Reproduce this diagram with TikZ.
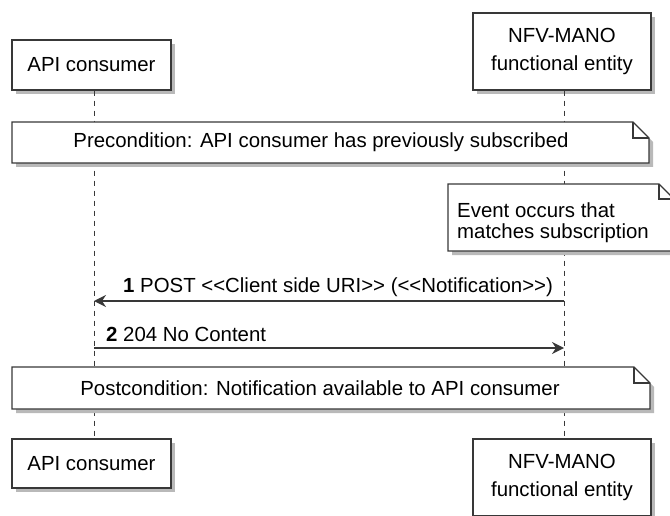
\documentclass[tikz,border=0pt]{standalone}
\usepackage{fontspec}
\setmainfont{Liberation Sans}
\usetikzlibrary{arrows.meta,shadows}
\definecolor{umlline}{HTML}{383838}
\definecolor{umlshadow}{HTML}{B9B9B9}
\tikzset{
  actorbox/.style={rectangle,draw=umlline,line width=1.4pt,fill=white,align=center,inner sep=0pt,
    font=\fontsize{20.4}{28}\selectfont,
    drop shadow={shadow xshift=4pt,shadow yshift=-4pt,fill=umlshadow,opacity=1}},
  lifeline/.style={draw=umlline,line width=1pt,dash pattern=on 5pt off 5pt},
  msg/.style={draw=umlline,line width=1.4pt,-{Stealth[length=12pt,width=12pt,inset=4pt]}},
  notebox/.style={draw=umlline,line width=1.4pt,fill=white,line join=miter},
  noteshadow/.style={fill=umlshadow},
  txt/.style={inner sep=0pt,font=\fontsize{20.4}{21}\selectfont}
}
\begin{document}
\begin{tikzpicture}[x=1pt,y=-1pt]
\useasboundingbox (0,0) rectangle (670,516);
% participants
\node[actorbox,minimum width=159pt,minimum height=50pt] (apitop) at (91.5,65) {API consumer};
\node[actorbox,minimum width=178pt,minimum height=77pt] (nfvtop) at (562,51.5) {NFV-MANO\\functional entity};
\node[actorbox,minimum width=159pt,minimum height=49pt] (apibot) at (91.5,463.5) {API consumer};
\node[actorbox,minimum width=178pt,minimum height=77pt] (nfvbot) at (562,477.5) {NFV-MANO\\functional entity};
% lifelines
\path[lifeline] ([xshift=2.5pt]apitop.south) -- ([xshift=2.5pt]apibot.north);
\path[lifeline] ([xshift=2pt]nfvtop.south) -- ([xshift=2pt]nfvbot.north);
% precondition
\fill[noteshadow] (16,126) -- (637,126) -- (653,142) -- (653,167) -- (16,167) -- cycle;
\path[notebox] (12,122) -- (633,122) -- (649,138) -- (649,163) -- (12,163) -- cycle;
\draw[umlline,line width=1.2pt] (633,122) -- (633,138) -- (649,138);
\node[txt] (pre) at (321,142.5) {Precondition: API consumer has previously subscribed};
% event note
\fill[noteshadow] (452,188) -- (663,188) -- (678,203) -- (678,255) -- (452,255) -- cycle;
\path[notebox] (448,184) -- (659,184) -- (674,199) -- (674,251) -- (448,251) -- cycle;
\draw[umlline,line width=1.2pt] (659,184) -- (659,199) -- (674,199);
\node[txt,anchor=west,align=left] (event) at (457,222.5) {Event occurs that\\matches subscription};
% messages
\coordinate (a1) at (94,301);
\coordinate (n1) at (564,301);
\coordinate (a2) at (94,348);
\coordinate (n2) at (564,348);
\path[msg] (n1) -- (a1);
\node[txt,anchor=west] (lbl1) at (123,287) {\textbf{1} POST <{}<Client side URI>{}> (<{}<Notification>{}>)};
\path[msg] (a2) -- (n2);
\node[txt,anchor=west] (lbl2) at (106,334) {\textbf{2} 204 No Content};
% postcondition
\fill[noteshadow] (16,371) -- (638,371) -- (654,387) -- (654,413) -- (16,413) -- cycle;
\path[notebox] (12,367) -- (634,367) -- (650,383) -- (650,409) -- (12,409) -- cycle;
\draw[umlline,line width=1.2pt] (634,367) -- (634,383) -- (650,383);
\node[txt] (post) at (320,388) {Postcondition: Notification available to API consumer};
\end{tikzpicture}
\end{document}
